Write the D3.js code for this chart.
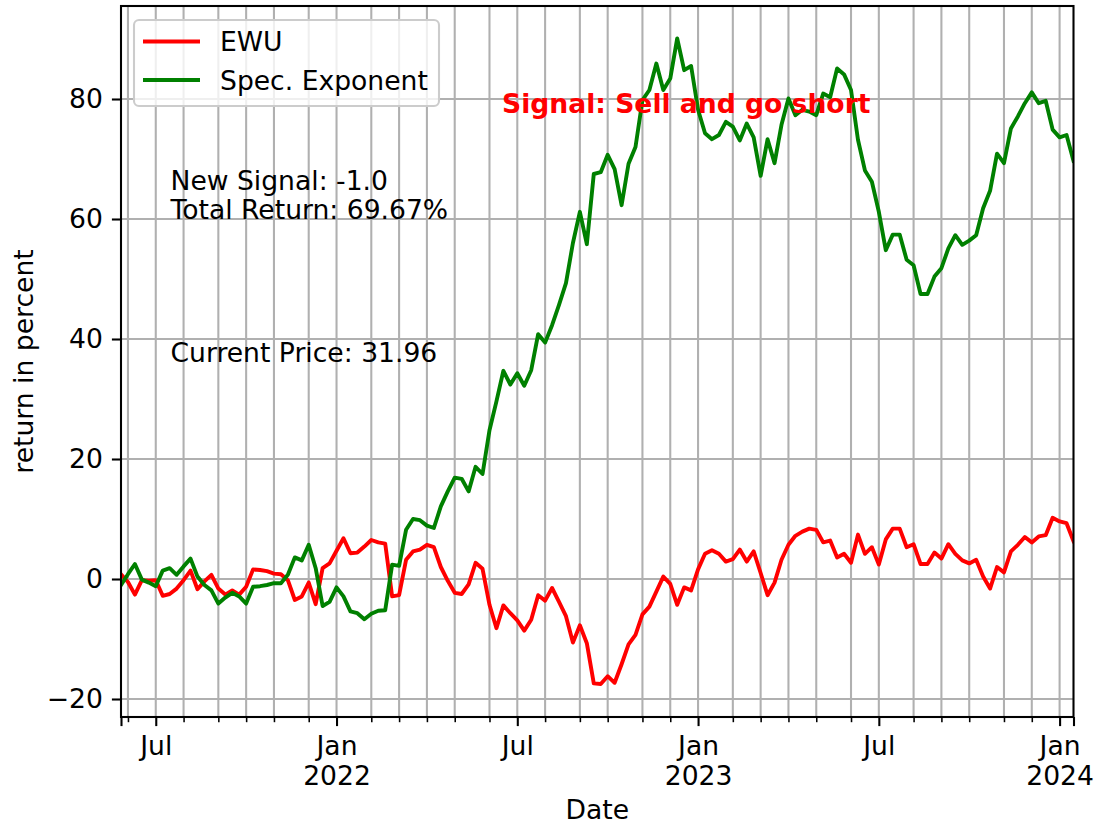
<!DOCTYPE html>
<html lang="en">
<head>
<meta charset="utf-8">
<title>EWU - Spec. Exponent</title>
<script src="https://cdn.jsdelivr.net/npm/d3@7"></script>
<style>
    body { margin: 0; background: white; }
    svg { display: block; }
    text { font-family: 'DejaVu Sans', sans-serif; font-size: 26.6px; fill: black; }
</style>
</head>
<body>
<svg id="chart" width="1096" height="825"></svg>
<script>
    // weekly series, first week starts on Monday 2021-05-31
    const startDate = new Date(2021, 4, 31);

    const ewu = [
        0.8, -0.5, -2.6, -0.2, -0.3, -0.2, -2.8, -2.5, -1.6, -0.2,
        1.4, -1.7, -0.4, 0.7, -1.6, -2.6, -1.9, -2.6, -1.3, 1.6,
        1.5, 1.3, 0.9, 0.8, -0.2, -3.5, -2.9, -0.6, -4.2, 1.8,
        2.6, 4.7, 6.8, 4.3, 4.4, 5.4, 6.5, 6.1, 5.9, -2.9,
        -2.7, 3.2, 4.6, 4.9, 5.7, 5.3, 2.0, -0.3, -2.3, -2.5,
        -0.9, 2.7, 1.7, -4.3, -8.2, -4.4, -5.7, -6.9, -8.6, -6.8,
        -2.7, -3.6, -1.5, -3.8, -6.2, -10.6, -7.7, -10.7, -17.4, -17.5,
        -16.2, -17.3, -14.2, -10.9, -9.3, -5.9, -4.6, -2.1, 0.4, -0.8,
        -4.3, -1.4, -1.9, 1.6, 4.2, 4.8, 4.2, 2.9, 3.3, 4.9,
        2.9, 4.6, 1.0, -2.7, -0.6, 3.2, 5.7, 7.2, 7.9, 8.4,
        8.2, 6.1, 6.4, 3.6, 4.2, 2.7, 7.4, 4.2, 5.3, 2.4,
        6.6, 8.4, 8.4, 5.3, 5.8, 2.5, 2.5, 4.4, 3.4, 5.8,
        4.2, 3.1, 2.6, 3.2, 0.4, -1.6, 2.0, 1.1, 4.6, 5.7,
        7.0, 6.1, 7.1, 7.3, 10.2, 9.6, 9.3, 6.3
    ];

    const specExponent = [
        -1.0, 0.8, 2.5, -0.1, -0.6, -1.2, 1.4, 1.8, 0.7, 2.1,
        3.4, 0.4, -1.0, -1.9, -4.1, -3.1, -2.3, -2.9, -4.1, -1.3,
        -1.2, -1.0, -0.7, -0.7, 0.7, 3.6, 3.1, 5.7, 1.8, -4.5,
        -3.8, -1.4, -2.9, -5.4, -5.7, -6.7, -5.8, -5.3, -5.2, 2.4,
        2.2, 8.2, 10.0, 9.8, 8.9, 8.5, 12.1, 14.6, 16.9, 16.7,
        14.6, 18.7, 17.5, 24.8, 29.6, 34.7, 32.4, 34.3, 32.2, 34.8,
        40.8, 39.4, 42.3, 45.7, 49.3, 56.0, 61.2, 55.8, 67.5, 67.8,
        70.7, 68.3, 62.3, 69.2, 72.0, 79.8, 81.5, 85.9, 81.5, 83.4,
        90.1, 84.8, 85.5, 78.2, 74.3, 73.3, 74.0, 76.2, 75.4, 73.1,
        75.9, 73.6, 67.2, 73.3, 69.3, 75.7, 80.1, 77.3, 78.2, 77.9,
        77.3, 80.9, 80.3, 85.1, 84.1, 81.5, 73.2, 68.1, 66.2, 61.2,
        54.8, 57.4, 57.4, 53.2, 52.3, 47.5, 47.5, 50.4, 51.8, 55.1,
        57.3, 55.7, 56.4, 57.3, 61.8, 64.7, 70.9, 69.3, 75.1, 77.1,
        79.3, 81.1, 79.3, 79.7, 74.9, 73.6, 74.0, 69.67
    ];

    const seriesNames = ['EWU', 'Spec. Exponent'];
    const seriesColors = ['red', 'green'];
    const yTicks = [-20, 0, 20, 40, 60, 80];

    const infoLines = ['New Signal: -1.0', 'Total Return: 69.67%'];
    const priceLine = 'Current Price: 31.96';
    const signalText = 'Signal: Sell and go short';

    // 1pt at this resolution
    const PT = 2.6;
    const WIDTH = 1096, HEIGHT = 825;
    const LEFT = 121, RIGHT = 1073.5, TOP = 6, BOTTOM = 717;

    const dates = d3.range(ewu.length).map(i => d3.timeDay.offset(startDate, 7 * i));

    // month breaks: first week of each new month
    const monthIdx = [];
    for (let i = 1; i < dates.length; i++) {
        if (dates[i].getMonth() !== dates[i - 1].getMonth()) monthIdx.push(i);
    }
    const labelIdx = monthIdx.filter(i => dates[i].getMonth() % 6 === 0);
    const minorIdx = monthIdx.filter(i => dates[i].getMonth() % 6 !== 0);
    const majorIdx = [0, ...labelIdx, dates.length - 1];

    const x = d3.scaleLinear().domain([0, dates.length - 1]).range([LEFT, RIGHT]);
    const y = d3.scaleLinear().domain([-23, 95.5]).range([BOTTOM, TOP]);

    const svg = d3.select('#chart').attr('viewBox', `0 0 ${WIDTH} ${HEIGHT}`);

    // grid
    const grid = svg.append('g').attr('stroke', '#b0b0b0').attr('stroke-width', 0.8 * PT);
    grid.selectAll('line.vg')
        .data(monthIdx)
        .join('line')
        .attr('class', 'vg')
        .attr('x1', d => x(d)).attr('x2', d => x(d))
        .attr('y1', TOP).attr('y2', BOTTOM);
    grid.selectAll('line.hg')
        .data(yTicks)
        .join('line')
        .attr('class', 'hg')
        .attr('x1', LEFT).attr('x2', RIGHT)
        .attr('y1', d => y(d)).attr('y2', d => y(d));

    // series lines
    const line = d3.line().x((d, i) => x(i)).y(d => y(d));
    svg.append('clipPath').attr('id', 'plotClip')
        .append('rect').attr('x', LEFT).attr('y', TOP)
        .attr('width', RIGHT - LEFT).attr('height', BOTTOM - TOP);
    [ewu, specExponent].forEach((series, k) => {
        svg.append('path')
            .datum(series)
            .attr('clip-path', 'url(#plotClip)')
            .attr('fill', 'none')
            .attr('stroke', seriesColors[k])
            .attr('stroke-width', 1.5 * PT)
            .attr('stroke-linejoin', 'round')
            .attr('stroke-linecap', 'square')
            .attr('d', line);
    });

    // axes
    const monthFmt = d3.timeFormat('%b');
    const xMinor = svg.append('g')
        .attr('transform', `translate(0,${BOTTOM})`)
        .call(d3.axisBottom(x).tickValues(minorIdx).tickSize(2 * PT).tickFormat(''));
    const xMajor = svg.append('g')
        .attr('transform', `translate(0,${BOTTOM})`)
        .call(d3.axisBottom(x).tickValues(majorIdx).tickSize(3.5 * PT).tickPadding(3.5 * PT)
            .tickFormat(i => labelIdx.includes(i) ? (dates[i].getMonth() === 0
                ? monthFmt(dates[i]) + '\n' + dates[i].getFullYear() : monthFmt(dates[i])) : ''));
    xMinor.selectAll('line').attr('stroke-width', 0.6 * PT);
    xMajor.selectAll('line').attr('stroke-width', 0.8 * PT);

    xMajor.selectAll('.tick text').each(function () {
        const t = d3.select(this);
        const parts = t.text().split('\n');
        t.text(null).attr('dy', null).attr('y', 3.5 * PT * 2 + 20);
        parts.forEach((p, j) => {
            t.append('tspan').attr('x', 0).attr('dy', j === 0 ? 0 : 30).text(p);
        });
    });

    const yAxis = svg.append('g')
        .attr('transform', `translate(${LEFT},0)`)
        .call(d3.axisLeft(y).tickValues(yTicks).tickSize(3.5 * PT).tickPadding(3.5 * PT)
            .tickFormat(d => d < 0 ? '\u2212' + Math.abs(d) : d));
    yAxis.selectAll('line').attr('stroke-width', 0.8 * PT);

    svg.selectAll('.domain').remove();
    svg.selectAll('.tick text').style('font-size', '26.6px').attr('fill', 'black');

    // frame
    svg.append('rect')
        .attr('x', LEFT).attr('y', TOP)
        .attr('width', RIGHT - LEFT).attr('height', BOTTOM - TOP)
        .attr('fill', 'none').attr('stroke', 'black').attr('stroke-width', 0.8 * PT);

    // axis labels
    svg.append('text')
        .attr('x', (LEFT + RIGHT) / 2).attr('y', 819)
        .attr('text-anchor', 'middle')
        .text('Date');
    svg.append('text')
        .attr('transform', `translate(33,${(TOP + BOTTOM) / 2}) rotate(-90)`)
        .attr('text-anchor', 'middle')
        .text('return in percent');

    // annotations (axes fraction positions)
    const ax = f => LEFT + f * (RIGHT - LEFT);
    const ay = f => BOTTOM - f * (BOTTOM - TOP);
    svg.append('text')
        .attr('x', ax(0.052)).attr('y', ay(0.741))
        .selectAll('tspan')
        .data(infoLines)
        .join('tspan')
        .attr('x', ax(0.052))
        .attr('dy', (d, i) => i === 0 ? 0 : 29)
        .text(d => d);
    svg.append('text')
        .attr('x', ax(0.052)).attr('y', ay(0.499))
        .text(priceLine);
    svg.append('text')
        .attr('x', ax(0.4)).attr('y', ay(0.85))
        .style('fill', 'red')
        .attr('font-weight', 'bold')
        .text(signalText);

    // legend
    const legend = svg.append('g').attr('transform', 'translate(134,20)');
    legend.append('rect')
        .attr('width', 305).attr('height', 86)
        .attr('rx', 5).attr('ry', 5)
        .attr('fill', 'white').attr('fill-opacity', 0.8)
        .attr('stroke', '#cccccc').attr('stroke-width', 0.8 * PT);
    seriesNames.forEach((name, k) => {
        const row = legend.append('g').attr('transform', `translate(0,${21.5 + k * 38.5})`);
        row.append('line')
            .attr('x1', 9).attr('x2', 66)
            .attr('stroke', seriesColors[k]).attr('stroke-width', 1.5 * PT);
        row.append('text').attr('x', 86).attr('y', 9.5).text(name);
    });
</script>
</body>
</html>
